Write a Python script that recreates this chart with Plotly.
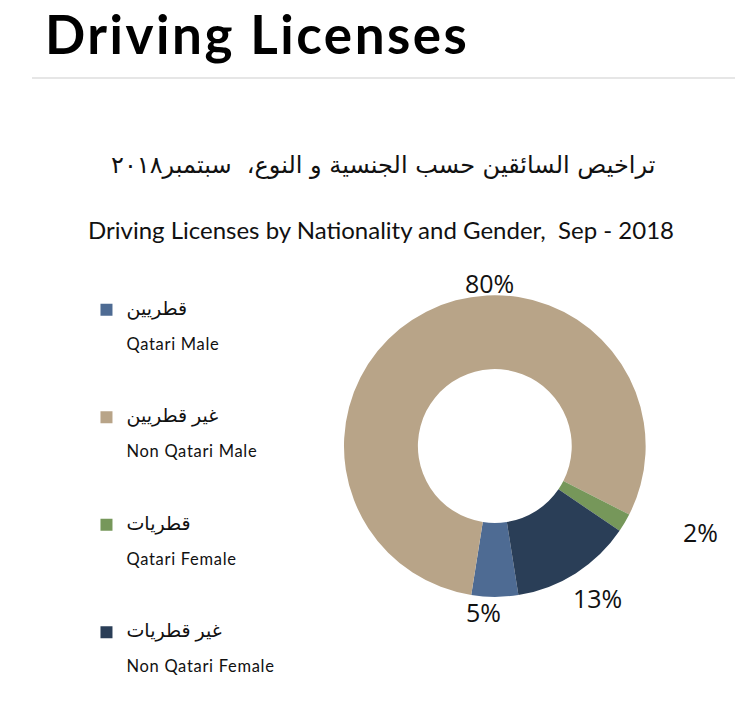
import plotly.graph_objects as go

# Data
labels_ar = ["قطريين", "غير قطريين", "قطريات", "غير قطريات"]
labels_en = ["Qatari Male", "Non Qatari Male", "Qatari Female", "Non Qatari Female"]
values = [5, 80, 2, 13]
colors = ["#4e6b93", "#b8a488", "#76975a", "#2a3e57"]

title_main = "Driving Licenses"
subtitle_ar = "تراخيص السائقين حسب الجنسية و النوع،  سبتمبر٢٠١٨"
subtitle_en = "Driving Licenses by Nationality and Gender,  Sep - 2018"

# label placement (paper px) for the percentage texts, in slice order
label_pos = [(484, 612), (489, 283), (700, 532), (597, 598)]

names = []
for i, (a, e) in enumerate(zip(labels_ar, labels_en)):
    tail = "<br> <br> <br> " if i < len(labels_ar) - 1 else ""
    names.append(f"<span style='font-size:19px'>{a}</span><br> <br>"
                 f"<span style='font-size:16.5px;letter-spacing:0.7px'>{e}</span>{tail}")

fig = go.Figure()
fig.add_trace(go.Pie(
    labels=names,
    values=values,
    marker=dict(colors=colors, line=dict(width=0)),
    hole=0.51,
    sort=False,
    direction="clockwise",
    rotation=171,
    textinfo="none",
    domain=dict(x=[0.457, 0.859], y=[0.171, 0.590]),
    showlegend=True,
    hoverinfo="label+percent",
))

total = sum(values)
annotations = [
    dict(text=f"<b><span style='letter-spacing:2.5px'>{title_main}</span></b>",
         x=43 / 752, y=1, xref="paper", yref="paper",
         xanchor="left", yanchor="top", showarrow=False,
         font=dict(family="Lato, sans-serif", size=53, color="#000000")),
    dict(text=subtitle_ar, x=383 / 752, y=1 - 165 / 720, xref="paper", yref="paper",
         xanchor="center", yanchor="middle", showarrow=False,
         font=dict(family="'DejaVu Sans', sans-serif", size=24, color="#111111")),
    dict(text=subtitle_en, x=381 / 752, y=1 - 229 / 720, xref="paper", yref="paper",
         xanchor="center", yanchor="middle", showarrow=False,
         font=dict(family="Lato, sans-serif", size=24, color="#111111")),
]
for v, (px, py) in zip(values, label_pos):
    annotations.append(dict(
        text=f"{round(100 * v / total)}%", x=px / 752, y=1 - py / 720,
        xref="paper", yref="paper", xanchor="center", yanchor="middle", showarrow=False,
        font=dict(family="Open Sans, sans-serif", size=25, color="#111111")))

fig.update_layout(
    width=752, height=720,
    margin=dict(l=0, r=0, t=0, b=0),
    paper_bgcolor="white",
    plot_bgcolor="white",
    font=dict(family="Lato, 'DejaVu Sans', sans-serif", color="#111111"),
    legend=dict(
        x=0.115, y=0.591, xanchor="left", yanchor="top",
        valign="top",
        font=dict(family="Lato, 'DejaVu Sans', sans-serif", size=13.4, color="#111111"),
        bgcolor="rgba(0,0,0,0)",
    ),
    annotations=annotations,
    shapes=[
        dict(type="line", xref="paper", yref="paper", x0=32 / 752, x1=735 / 752,
             y0=1 - 78 / 720, y1=1 - 78 / 720, line=dict(color="#e6e6e6", width=2)),
    ],
)

fig.write_html("out.html")
